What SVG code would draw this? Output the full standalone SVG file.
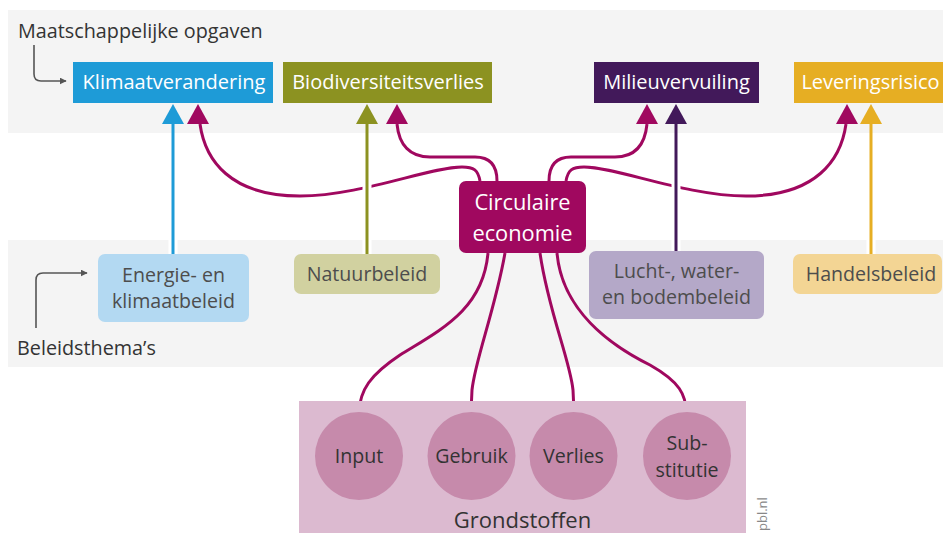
<svg xmlns="http://www.w3.org/2000/svg" width="943" height="533" viewBox="0 0 943 533">
<defs>
<style>
text{font-family:"Open Sans","Noto Sans",sans-serif}
.band{fill:#f4f4f4}
.lbl{font-size:19.8px;fill:#333}
.top{font-size:20px;fill:#fff;text-anchor:middle}
.mid{font-size:19.6px;fill:#4d4d4d;text-anchor:middle}
.circ{font-size:19.6px;fill:#333;text-anchor:middle}
.ce{stroke:#a0085f;stroke-width:3;fill:none}
.halo{stroke:#fff;stroke-width:9;fill:none}
.guide{stroke:#555;stroke-width:1.6;fill:none}
</style>
<marker id="ag" viewBox="0 0 10 10" refX="9" refY="5" markerWidth="7" markerHeight="7" orient="auto" markerUnits="userSpaceOnUse"><path d="M0,0 L10,5 L0,10 z" fill="#555"/></marker>
</defs>
<rect x="0" y="0" width="943" height="533" fill="#fff"/>
<rect class="band" x="8" y="10" width="935" height="123"/>
<rect class="band" x="8" y="240" width="935" height="127"/>

<g id="label-opgaven">
<text class="lbl" x="18" y="38">Maatschappelijke opgaven</text>
<path class="guide" d="M34,45 L34,74 Q34,81 41,81 L66,81" marker-end="url(#ag)"/>
</g>
<g id="label-thema">
<text class="lbl" x="17" y="355">Beleidsthema’s</text>
<path class="guide" d="M36,328 L36,280 Q36,273 43,273 L87,273" marker-end="url(#ag)"/>
</g>

<g id="connectors">
<path class="ce" d="M480,181 C478,170 474,167 462,167 C430,167 360,196 300,196 C230,196 205,160 200,124"/>
<path class="ce" d="M497,181 C497,165 490,157 475,157 L430,157 C410,157 399,145 397,124"/>
<path class="ce" d="M549,181 C549,165 556,157 571,157 L615,157 C635,157 645,145 647,124"/>
<path class="ce" d="M566,181 C568,170 572,167 584,167 C616,167 686,196 746,196 C816,196 841,160 846,124"/>
<path class="ce" d="M488,253 C483,310 440,330 400,355 C370,375 360,390 359,412"/>
<path class="ce" d="M505,253 C495,310 475,360 472,390 L471,412"/>
<path class="ce" d="M540,253 C548,310 570,360 573,390 L574,412"/>
<path class="ce" d="M557,253 C562,310 610,345 650,365 C680,382 686,395 686,412"/>
<path class="halo" d="M173,140 L173,254 M367,140 L367,254 M676,140 L676,251 M871,140 L871,254"/>
<path d="M173,122 L173,254" stroke="#1e9bd7" stroke-width="3"/>
<path d="M367,122 L367,254" stroke="#8c9221" stroke-width="3"/>
<path d="M676,122 L676,251" stroke="#42195a" stroke-width="3"/>
<path d="M871,122 L871,254" stroke="#e6ae23" stroke-width="3"/>
<path d="M173,104 L184,124 L162,124 z" fill="#1e9bd7"/>
<path d="M198,104 L209,124 L187,124 z" fill="#a0085f"/>
<path d="M367,104 L378,124 L356,124 z" fill="#8c9221"/>
<path d="M397,104 L408,124 L386,124 z" fill="#a0085f"/>
<path d="M647,104 L658,124 L636,124 z" fill="#a0085f"/>
<path d="M676,104 L687,124 L665,124 z" fill="#42195a"/>
<path d="M847,104 L858,124 L836,124 z" fill="#a0085f"/>
<path d="M871,104 L882,124 L860,124 z" fill="#e6ae23"/>
</g>

<g id="klimaatverandering"><rect x="73" y="62" width="200" height="41" fill="#1e9bd7"/><text class="top" x="174" y="89">Klimaatverandering</text></g>
<g id="biodiversiteitsverlies"><rect x="283" y="62" width="209" height="41" fill="#8c9221"/><text class="top" x="388" y="89">Biodiversiteitsverlies</text></g>
<g id="milieuvervuiling"><rect x="594" y="62" width="165" height="41" fill="#42195a"/><text class="top" x="676.5" y="89">Milieuvervuiling</text></g>
<g id="leveringsrisico"><rect x="794" y="62" width="160" height="41" fill="#e6ae23"/><text class="top" x="870.5" y="89">Leveringsrisico</text></g>

<g id="circulaire-economie"><rect x="459" y="181" width="127" height="72" rx="7" fill="#a0085f"/><text class="top" x="522.5" y="210" style="font-size:21.8px">Circulaire</text><text class="top" x="522.5" y="241" style="font-size:21.8px">economie</text></g>

<g id="energie"><rect x="98" y="254" width="151" height="68" rx="7" fill="#b3d9f2"/><text class="mid" x="173.5" y="282">Energie- en</text><text class="mid" x="173.5" y="308">klimaatbeleid</text></g>
<g id="natuurbeleid"><rect x="294" y="254" width="146" height="40" rx="7" fill="#d1d1a0"/><text class="mid" x="367" y="281">Natuurbeleid</text></g>
<g id="lucht"><rect x="589" y="251" width="175" height="68" rx="7" fill="#b4a8c8"/><text class="mid" x="676.5" y="278">Lucht-, water-</text><text class="mid" x="676.5" y="304">en bodembeleid</text></g>
<g id="handelsbeleid"><rect x="793" y="254" width="149" height="40" rx="7" fill="#f3d594"/><text class="mid" x="871" y="281">Handelsbeleid</text></g>

<g id="grondstoffen"><rect x="299" y="401" width="447" height="140" fill="#dcbad0"/><text class="circ" x="522.5" y="528" style="font-size:22px">Grondstoffen</text></g>
<g id="input"><circle cx="359" cy="456" r="44" fill="#c68aab"/><text class="circ" x="359" y="463">Input</text></g>
<g id="gebruik"><circle cx="471.5" cy="456" r="44" fill="#c68aab"/><text class="circ" x="471.5" y="463">Gebruik</text></g>
<g id="verlies"><circle cx="573.5" cy="456" r="44" fill="#c68aab"/><text class="circ" x="573.5" y="463">Verlies</text></g>
<g id="substitutie"><circle cx="687" cy="456" r="44" fill="#c68aab"/><text class="circ" x="687" y="450">Sub-</text><text class="circ" x="687" y="477">stitutie</text></g>

<text x="0" y="0" transform="translate(767,531) rotate(-90)" style="font-size:13px;fill:#888">pbl.nl</text>
</svg>
